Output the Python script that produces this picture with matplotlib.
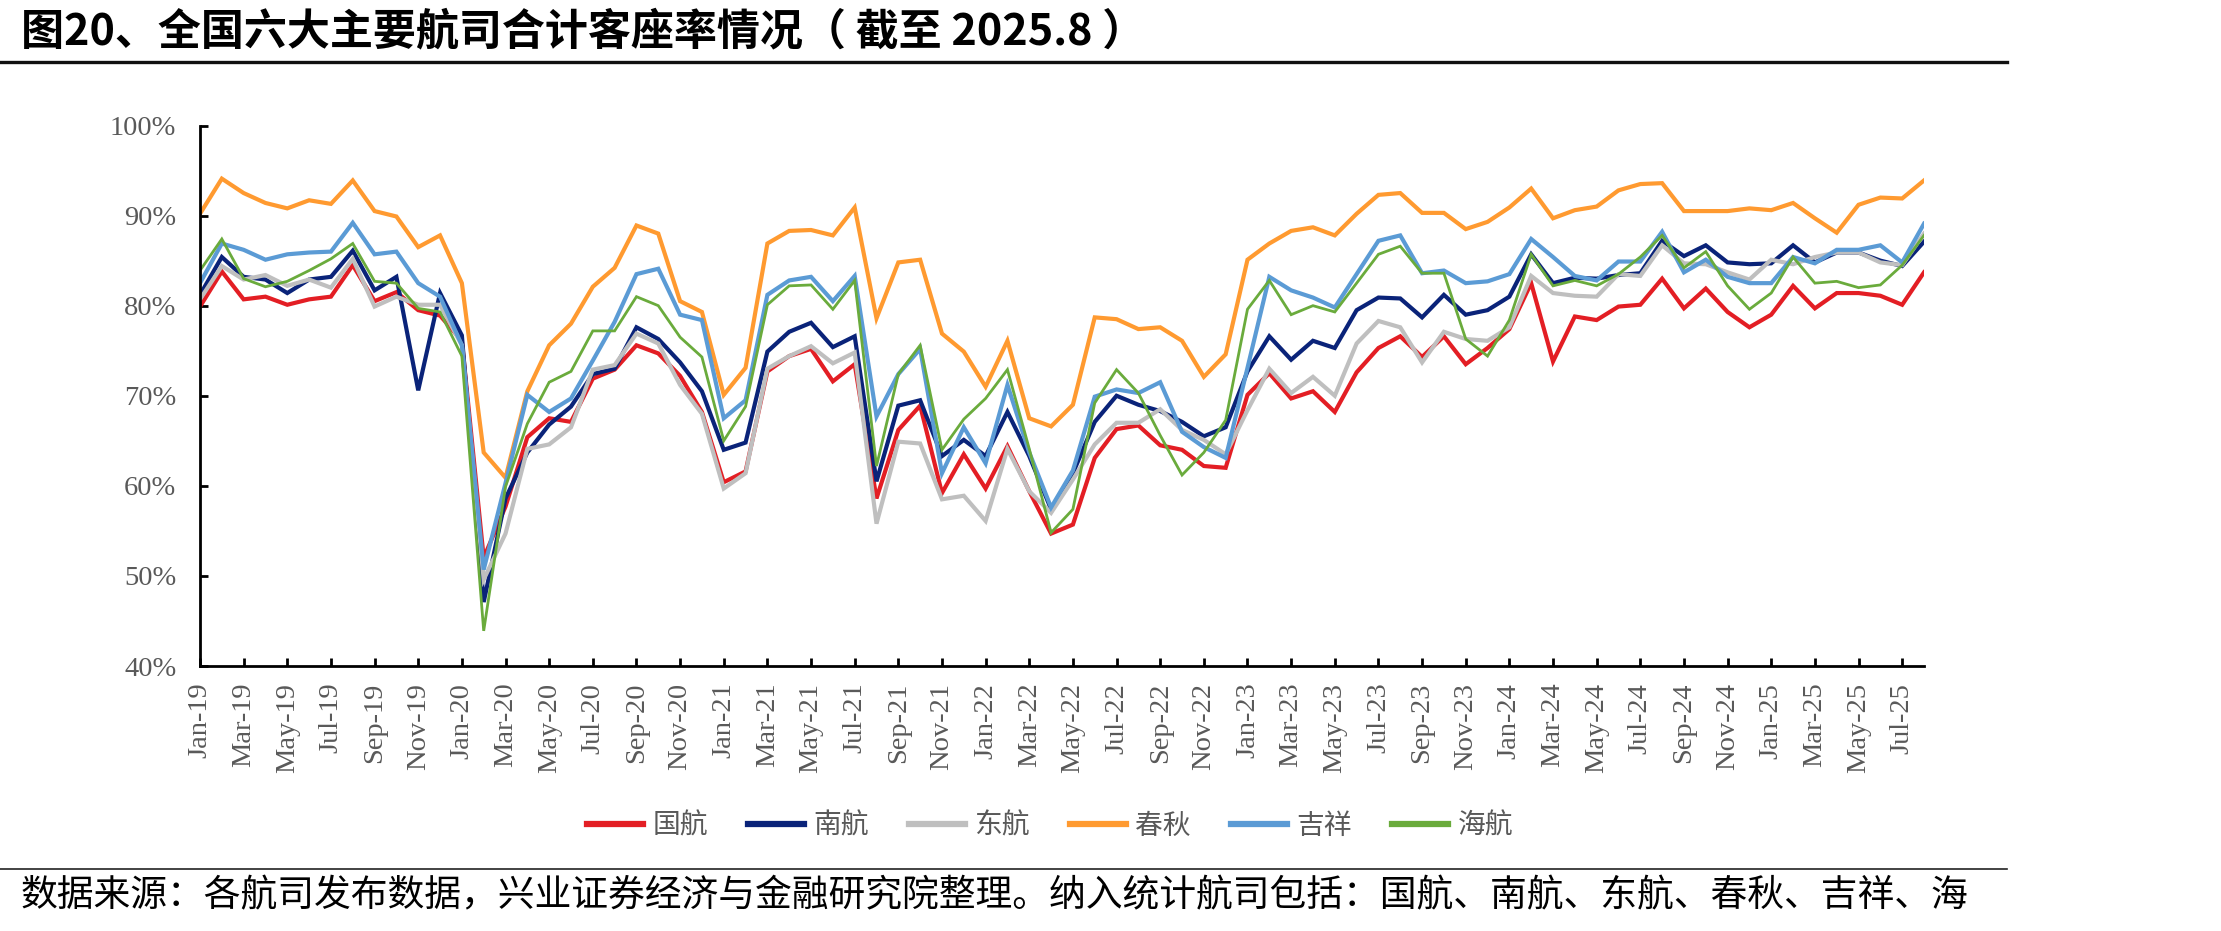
"""plot.py: 全国六大主要航司合计客座率情况"""
import matplotlib
matplotlib.use("Agg")
import matplotlib.pyplot as plt
from matplotlib.lines import Line2D
import pandas as pd

W, H, DPI = 2221, 931, 100
CJK = ["Noto Sans CJK SC", "DejaVu Sans"]
SERIF = "Liberation Serif"
TICK_GREY = "#595959"

# months Jan-19 .. Aug-25
months = pd.date_range("2019-01-01", periods=80, freq="MS").strftime("%b-%y").tolist()

air_china = [79.9, 83.8, 80.7, 81.0, 80.1, 80.7, 81.0, 84.5, 80.5, 81.5, 79.5, 78.9,
             76.1, 52.0, 57.7, 65.4, 67.5, 67.1, 71.9, 72.9, 75.6, 74.7, 72.2, 68.2,
             60.4, 61.6, 72.7, 74.4, 75.2, 71.6, 73.5, 58.6, 66.2, 68.9, 59.2, 63.5,
             59.7, 64.4, 59.4, 54.7, 55.7, 63.1, 66.3, 66.7, 64.5, 64.0, 62.2, 62.0,
             70.1, 72.5, 69.7, 70.5, 68.2, 72.6, 75.3, 76.6, 74.3, 76.6, 73.5, 75.3,
             77.4, 82.5, 73.8, 78.8, 78.4, 79.9, 80.1, 83.0, 79.7, 81.9, 79.3, 77.6,
             79.0, 82.2, 79.7, 81.4, 81.4, 81.1, 80.1, 83.7]
china_southern = [81.2, 85.4, 83.2, 82.9, 81.4, 82.9, 83.2, 86.1, 81.7, 83.2, 70.6, 81.4,
                  76.7, 47.1, 58.6, 63.7, 66.8, 68.8, 72.4, 73.0, 77.6, 76.3, 73.7, 70.5,
                  64.0, 64.8, 74.9, 77.1, 78.1, 75.4, 76.6, 60.5, 68.9, 69.5, 63.3, 65.1,
                  63.3, 68.2, 63.3, 57.4, 61.4, 67.1, 70.0, 69.0, 68.3, 67.1, 65.5, 66.5,
                  72.7, 76.6, 74.0, 76.1, 75.3, 79.5, 80.9, 80.8, 78.7, 81.2, 79.0, 79.5,
                  81.0, 85.7, 82.5, 83.1, 83.0, 83.4, 83.6, 87.2, 85.5, 86.7, 84.8, 84.6,
                  84.7, 86.7, 84.8, 85.9, 85.9, 85.0, 84.4, 87.1]
china_eastern = [80.7, 84.4, 82.9, 83.4, 82.2, 82.9, 82.0, 85.2, 79.9, 81.0, 80.1, 80.1,
                 75.6, 49.6, 54.7, 64.1, 64.6, 66.5, 72.9, 73.4, 76.9, 75.8, 71.2, 68.0,
                 59.7, 61.4, 73.0, 74.4, 75.5, 73.6, 74.8, 55.8, 64.9, 64.7, 58.5, 58.9,
                 56.1, 64.1, 59.4, 57.0, 60.7, 64.6, 67.0, 67.0, 68.5, 66.2, 65.1, 63.5,
                 68.4, 73.0, 70.3, 72.1, 70.0, 75.8, 78.3, 77.6, 73.7, 77.1, 76.3, 76.1,
                 77.6, 83.3, 81.4, 81.1, 81.0, 83.5, 83.3, 86.7, 84.7, 84.6, 83.7, 82.9,
                 85.1, 84.6, 85.4, 85.9, 85.9, 84.8, 84.5, 88.0]
spring = [90.2, 94.1, 92.5, 91.4, 90.8, 91.7, 91.3, 93.9, 90.5, 89.9, 86.5, 87.8,
          82.5, 63.7, 60.9, 70.5, 75.6, 78.0, 82.1, 84.2, 88.9, 88.0, 80.5, 79.3,
          70.1, 73.1, 86.9, 88.3, 88.4, 87.8, 90.9, 78.6, 84.8, 85.1, 76.9, 74.9,
          71.0, 76.1, 67.5, 66.6, 69.0, 78.7, 78.5, 77.4, 77.6, 76.1, 72.1, 74.6,
          85.1, 86.9, 88.3, 88.7, 87.8, 90.2, 92.3, 92.5, 90.3, 90.3, 88.5, 89.3,
          90.9, 93.0, 89.7, 90.6, 91.0, 92.8, 93.5, 93.6, 90.5, 90.5, 90.5, 90.8,
          90.6, 91.4, 89.7, 88.1, 91.2, 92.0, 91.9, 93.9]
juneyao = [82.5, 86.9, 86.2, 85.1, 85.7, 85.9, 86.0, 89.2, 85.7, 86.0, 82.5, 81.0,
           75.6, 50.7, 60.3, 70.1, 68.2, 69.7, 73.9, 78.2, 83.5, 84.1, 79.0, 78.4,
           67.5, 69.5, 81.2, 82.8, 83.2, 80.5, 83.3, 67.7, 72.4, 75.2, 61.4, 66.5,
           62.5, 71.2, 63.7, 57.6, 61.7, 69.9, 70.7, 70.3, 71.5, 66.0, 64.3, 63.1,
           73.1, 83.2, 81.7, 80.9, 79.8, 83.5, 87.2, 87.8, 83.6, 83.9, 82.5, 82.7,
           83.5, 87.4, 85.4, 83.3, 82.8, 84.9, 84.9, 88.2, 83.7, 85.1, 83.2, 82.5,
           82.5, 85.4, 84.7, 86.2, 86.2, 86.7, 84.8, 89.1]
hainan = [83.9, 87.4, 83.0, 82.1, 82.7, 83.9, 85.2, 86.9, 82.7, 82.5, 79.7, 79.3,
          74.4, 43.9, 59.9, 66.9, 71.5, 72.7, 77.2, 77.2, 81.0, 80.0, 76.5, 74.3,
          65.0, 68.8, 80.1, 82.2, 82.3, 79.6, 82.8, 62.2, 72.4, 75.6, 64.0, 67.4,
          69.7, 72.9, 64.1, 54.8, 57.4, 69.2, 72.9, 70.3, 65.6, 61.2, 63.7, 67.3,
          79.6, 82.8, 79.0, 80.0, 79.3, 82.5, 85.7, 86.6, 83.6, 83.6, 76.3, 74.4,
          78.4, 85.7, 82.2, 82.8, 82.2, 83.5, 85.4, 87.8, 84.2, 86.0, 82.2, 79.6,
          81.4, 85.4, 82.5, 82.7, 82.0, 82.3, 84.5, 87.8]

series = [
    ("国航", air_china, "#E31E24", 3.0),
    ("南航", china_southern, "#0A2379", 3.0),
    ("东航", china_eastern, "#BFBFBF", 3.0),
    ("春秋", spring, "#FF9A30", 3.0),
    ("吉祥", juneyao, "#5B9BD5", 3.0),
    ("海航", hainan, "#6AAB3C", 2.0),
]

fig = plt.figure(figsize=(W / DPI, H / DPI), dpi=DPI)
ax = fig.add_axes([200 / W, 1 - 666 / H, (1924 - 200) / W, (666 - 125.5) / H])

x = list(range(len(months)))
for name, vals, color, lw in series:
    ax.plot(x, vals, color=color, lw=lw, label=name, solid_joinstyle="miter")

ax.set_xlim(0, len(months) - 1)
ax.set_ylim(40, 100)
ax.set_yticks(range(40, 101, 10))
ax.set_yticklabels([f"{v}%" for v in range(40, 101, 10)])
ax.set_xticks(x[::2])
ax.set_xticklabels(months[::2], rotation=90, va="top", ha="center")

for side in ("top", "right"):
    ax.spines[side].set_visible(False)
for side in ("left", "bottom"):
    ax.spines[side].set_linewidth(2.0)
ax.tick_params(axis="both", direction="in", length=6, width=2.0, colors="black",
               labelcolor=TICK_GREY, labelsize=20.5)
ax.tick_params(axis="x", pad=12)
ax.tick_params(axis="y", pad=17)
for lab in ax.get_xticklabels() + ax.get_yticklabels():
    lab.set_fontfamily(SERIF)

leg = fig.legend(loc="center", bbox_to_anchor=(1050 / W, 1 - 826 / H), ncol=6,
                 frameon=False, prop={"family": CJK, "size": 20},
                 handlelength=2.0, handletextpad=0.35, columnspacing=1.45)
for t in leg.get_texts():
    t.set_color(TICK_GREY)
for h in leg.get_lines():
    h.set_linewidth(4.5)

fig.text(21 / W, 1 - 31 / H, "图20、全国六大主要航司合计客座率情况（ 截至 2025.8 ）",
         family=CJK, fontsize=31, fontweight="bold", va="center", ha="left")
fig.add_artist(Line2D([0, 2007 / W], [1 - 62 / H] * 2, transform=fig.transFigure,
                      color="#111111", lw=2.4))
fig.add_artist(Line2D([0, 2007 / W], [1 - 869 / H] * 2, transform=fig.transFigure,
                      color="#222222", lw=1.2))
fig.text(21 / W, 1 - 896 / H,
         "数据来源：各航司发布数据，兴业证券经济与金融研究院整理。纳入统计航司包括：国航、南航、东航、春秋、吉祥、海",
         family=CJK, fontsize=26.5, va="center", ha="left")

fig.savefig("out.png", dpi=DPI)
